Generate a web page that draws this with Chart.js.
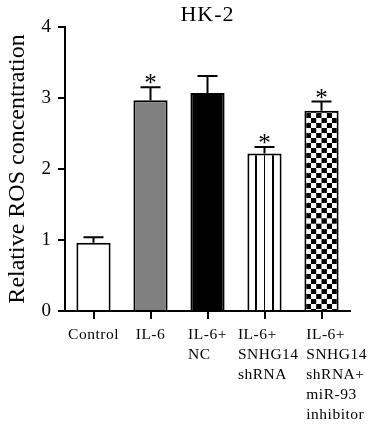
<!DOCTYPE html>
<html>
<head>
<meta charset="utf-8">
<script src="https://cdn.jsdelivr.net/npm/chart.js@4/dist/chart.umd.min.js"></script>
<style>
  html, body { margin: 0; padding: 0; background: #ffffff; }
  #wrap { width: 369px; height: 425px; position: relative; }
</style>
</head>
<body>
<div id="wrap"><canvas id="c" width="369" height="425"></canvas></div>
<script>
// ---- data ----
const chartTitle = "HK-2";
const yAxisTitle = "Relative ROS concentration";
const categories = [
  ["Control"],
  ["IL-6"],
  ["IL-6+", "NC"],
  ["IL-6+", "SNHG14", "shRNA"],
  ["IL-6+", "SNHG14", "shRNA+", "miR-93", "inhibitor"]
];
const rosValues = [0.96, 2.97, 3.07, 2.22, 2.82];
const rosErrors = [0.08, 0.18, 0.24, 0.09, 0.13];
const significant = [false, true, false, true, true];
const yTicks = [0, 1, 2, 3, 4];

const FONT = "'Liberation Serif', 'Times New Roman', serif";

// ---- fill styles ----
function makeStripePattern() {
  const c = document.createElement('canvas');
  c.width = 100; c.height = 4;
  const g = c.getContext('2d');
  g.fillStyle = '#ffffff'; g.fillRect(0, 0, 100, 4);
  g.fillStyle = '#000000'; g.fillRect(0, 0, 20, 4);
  const p = document.getElementById('c').getContext('2d').createPattern(c, 'repeat');
  p.kind = 'stripes';
  return p;
}
function makeCheckerPattern() {
  const c = document.createElement('canvas');
  c.width = 100; c.height = 100;
  const g = c.getContext('2d');
  g.fillStyle = '#ffffff'; g.fillRect(0, 0, 100, 100);
  g.fillStyle = '#000000';
  g.fillRect(0, 0, 50, 50);
  g.fillRect(50, 50, 50, 50);
  const p = document.getElementById('c').getContext('2d').createPattern(c, 'repeat');
  p.kind = 'checker';
  return p;
}
const fills = ['#ffffff', '#808080', '#000000', makeStripePattern(), makeCheckerPattern()];

// ---- plugins ----
const patternAlign = {
  id: 'patternAlign',
  beforeDatasetsDraw(chart) {
    const meta = chart.getDatasetMeta(0);
    meta.data.forEach((el, i) => {
      const f = fills[i];
      if (typeof f === 'string') return;
      const bw = el.width;
      const left = el.x - bw / 2;
      const top = el.y;
      if (f.kind === 'stripes') {
        const period = bw / 4;
        const lw = period * 0.2;
        f.setTransform(new DOMMatrix().translate(left - lw / 2, 0).scale(period / 100, 1));
      } else if (f.kind === 'checker') {
        const cell = (bw - 4) / 6;
        f.setTransform(new DOMMatrix().translate(left + 2, top + 2).scale(cell * 2 / 100, cell * 2 / 100));
      }
    });
  }
};

const errorBars = {
  id: 'errorBars',
  afterDatasetsDraw(chart) {
    const ctx = chart.ctx;
    const y = chart.scales.y;
    const meta = chart.getDatasetMeta(0);
    ctx.save();
    ctx.strokeStyle = '#000000';
    ctx.lineWidth = 2;
    ctx.lineCap = 'butt';
    meta.data.forEach((el, i) => {
      const x = el.x;
      const yTop = y.getPixelForValue(rosValues[i] + rosErrors[i]);
      const yBar = y.getPixelForValue(rosValues[i]);
      ctx.beginPath();
      ctx.moveTo(x, yBar);
      ctx.lineTo(x, yTop);
      ctx.moveTo(x - 10, yTop);
      ctx.lineTo(x + 10, yTop);
      ctx.stroke();
      if (significant[i]) {
        ctx.fillStyle = '#000000';
        ctx.font = '25px ' + FONT;
        ctx.textAlign = 'center';
        ctx.textBaseline = 'alphabetic';
        const m = ctx.measureText('*');
        const baseY = (yTop - 3) - m.actualBoundingBoxDescent;
        ctx.fillText('*', x, baseY);
      }
    });
    ctx.restore();
  }
};

const textLayer = {
  id: 'textLayer',
  afterDraw(chart) {
    const ctx = chart.ctx;
    const area = chart.chartArea;
    const xs = chart.scales.x;
    ctx.save();
    ctx.fillStyle = '#000000';
    // title
    ctx.font = '22px ' + FONT;
    ctx.letterSpacing = '1px';
    ctx.textAlign = 'center';
    ctx.textBaseline = 'alphabetic';
    ctx.fillText(chartTitle, (area.left + area.right) / 2, 21);
    // category labels: block centred on tick, lines left-aligned, never overlapping
    ctx.font = '15.5px ' + FONT;
    ctx.letterSpacing = '0.5px';
    ctx.textAlign = 'left';
    let prevRight = -Infinity;
    categories.forEach((lines, i) => {
      const tx = xs.getPixelForTick(i);
      let w = 0;
      lines.forEach(l => { w = Math.max(w, ctx.measureText(l).width); });
      let x0 = Math.max(tx - w / 2, prevRight + 11);
      const maxRight = chart.width - 2;
      if (x0 + w > maxRight) x0 = maxRight - w;
      lines.forEach((l, k) => {
        ctx.fillText(l, x0, 339 + k * 20);
      });
      prevRight = x0 + w;
    });
    ctx.restore();
  }
};

new Chart(document.getElementById('c'), {
  type: 'bar',
  data: {
    labels: categories,
    datasets: [{
      data: rosValues,
      backgroundColor: fills,
      borderColor: '#000000',
      borderWidth: 2,
      borderSkipped: 'start',
      barPercentage: 0.6,
      categoryPercentage: 1.0
    }]
  },
  options: {
    responsive: false,
    animation: false,
    devicePixelRatio: 1,
    layout: { padding: { top: 27, right: 19, bottom: 0, left: 0 } },
    plugins: {
      legend: { display: false },
      title: { display: false },
      tooltip: { enabled: false }
    },
    scales: {
      x: {
        type: 'category',
        offset: true,
        grid: {
          display: true, drawOnChartArea: false, drawTicks: true,
          tickLength: 8, lineWidth: 2, color: '#000000', offset: false
        },
        border: { display: true, color: '#000000', width: 2 },
        ticks: { display: false },
        afterFit(scale) { scale.height = 114; }
      },
      y: {
        min: 0, max: 4,
        afterBuildTicks(scale) { scale.ticks = yTicks.map(v => ({ value: v })); },
        grid: {
          display: true, drawOnChartArea: false, drawTicks: true,
          tickLength: 7, lineWidth: 2, color: '#000000'
        },
        border: { display: true, color: '#000000', width: 2 },
        ticks: {
          color: '#000000', padding: 7,
          font: { family: FONT, size: 19 }
        },
        title: {
          display: true, text: yAxisTitle, color: '#000000',
          font: { family: FONT, size: 24 },
          padding: { top: 3, bottom: 0 }
        },
        afterFit(scale) { scale.width = 65; }
      }
    }
  },
  plugins: [patternAlign, errorBars, textLayer]
});
</script>
</body>
</html>
